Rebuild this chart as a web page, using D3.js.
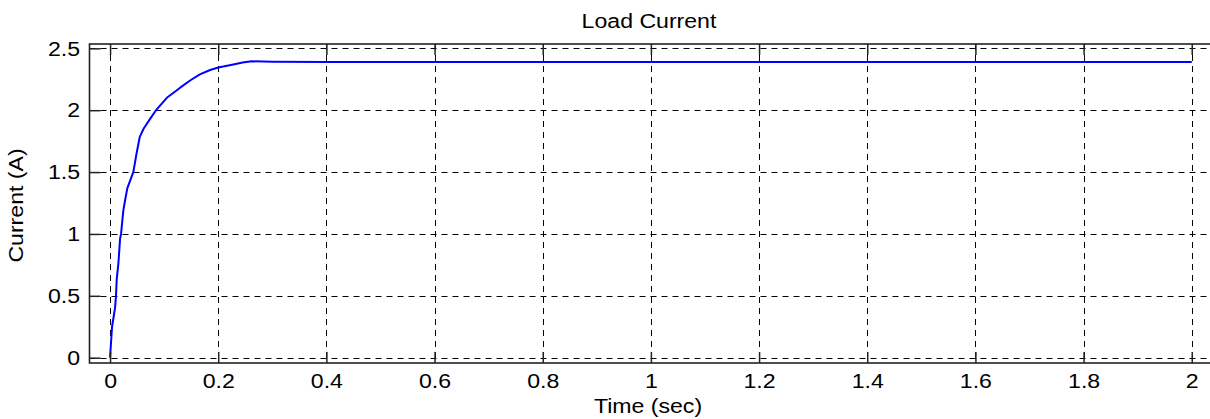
<!DOCTYPE html>
<html>
<head>
<meta charset="utf-8">
<script src="https://cdn.jsdelivr.net/npm/d3@7"></script>
<style>
  body { margin: 0; background: #fff; }
  text { font-family: "Liberation Sans", Arial, sans-serif; fill: #000; }
</style>
</head>
<body>
<div id="chart"></div>
<script>
// values
const time = [0, 0.0037, 0.0092, 0.011, 0.0123, 0.0154, 0.0185, 0.0203, 0.0246, 0.0277,
  0.032, 0.043, 0.049, 0.055, 0.062, 0.074, 0.085, 0.105, 0.129, 0.148, 0.166, 0.185, 0.2,
  0.228, 0.245, 0.262, 0.3, 0.4, 0.6, 0.8, 1.0, 1.2, 1.4, 1.6, 1.8, 2.0];
const current = [0, 0.25, 0.4, 0.5, 0.63, 0.76, 0.96, 1.0, 1.19, 1.27,
  1.37, 1.5, 1.65, 1.785, 1.85, 1.93, 2.0, 2.1, 2.18, 2.24, 2.29, 2.325, 2.345,
  2.37, 2.385, 2.395, 2.392, 2.389, 2.39, 2.389, 2.39, 2.389, 2.39, 2.39, 2.389, 2.39];

const xTicks = [0, 0.2, 0.4, 0.6, 0.8, 1, 1.2, 1.4, 1.6, 1.8, 2];
const yTicks = [0, 0.5, 1, 1.5, 2, 2.5];

const W = 1210, H = 419;
const box = { left: 89.5, top: 44, right: 1212.3, bottom: 363 };
const tickLen = 11;
const fontSize = "21px";
const stretch = 1.1; // the picture's letters are a bit wide

const svg = d3.select("#chart").append("svg")
  .attr("width", W)
  .attr("height", H);

const x = d3.scaleLinear().domain([-0.038, 2.038]).range([box.left, box.right]);
const y = d3.scaleLinear().domain([-0.043, 2.535]).range([box.bottom, box.top]);

// dashed grid
const grid = svg.append("g")
  .attr("stroke", "#000")
  .attr("stroke-width", 1)
  .attr("stroke-dasharray", "6,5");

grid.selectAll(".vg").data(xTicks).enter().append("line")
  .attr("x1", (d) => Math.round(x(d)) + 0.5)
  .attr("x2", (d) => Math.round(x(d)) + 0.5)
  .attr("y1", box.top)
  .attr("y2", box.bottom);

grid.selectAll(".hg").data(yTicks).enter().append("line")
  .attr("y1", (d) => Math.round(y(d)) + 0.5)
  .attr("y2", (d) => Math.round(y(d)) + 0.5)
  .attr("x1", box.left)
  .attr("x2", box.right);

// the curve
const line = d3.line()
  .x((d, i) => x(time[i]))
  .y((d) => y(d));

svg.append("path")
  .datum(current)
  .attr("fill", "none")
  .attr("stroke", "#0000ff")
  .attr("stroke-width", 2)
  .attr("stroke-linejoin", "round")
  .attr("d", line);

// axes: ticks pointing inward, labels outside
const bottomAxis = d3.axisBottom(x).tickValues(xTicks).tickSize(-tickLen).tickPadding(10)
  .tickFormat(d3.format("~g"));
const topAxis = d3.axisTop(x).tickValues(xTicks).tickSize(-tickLen).tickFormat("");
const leftAxis = d3.axisLeft(y).tickValues(yTicks).tickSize(-tickLen).tickPadding(8.6)
  .tickFormat(d3.format("~g"));

function styleAxis(g) {
  g.select(".domain").remove();
  g.selectAll(".tick line").attr("stroke", "#222").attr("stroke-width", 1.5);
  g.selectAll(".tick text")
    .style("font-size", fontSize)
    .attr("fill", "#000")
    .attr("transform", `scale(${stretch},1)`);
}

svg.append("g").attr("transform", `translate(0,${box.bottom})`).call(bottomAxis).call(styleAxis);
svg.append("g").attr("transform", `translate(0,${box.top})`).call(topAxis).call(styleAxis);
svg.append("g").attr("transform", `translate(${box.left},0)`).call(leftAxis).call(styleAxis);

// frame
svg.append("rect")
  .attr("x", box.left)
  .attr("y", box.top)
  .attr("width", box.right - box.left)
  .attr("height", box.bottom - box.top)
  .attr("fill", "none")
  .attr("stroke", "#222")
  .attr("stroke-width", 1.6);

// texts
svg.append("text")
  .attr("transform", `translate(649,28) scale(${stretch},1)`)
  .attr("text-anchor", "middle")
  .style("font-size", fontSize)
  .text("Load Current");

svg.append("text")
  .attr("transform", `translate(648,413) scale(${stretch},1)`)
  .attr("text-anchor", "middle")
  .style("font-size", fontSize)
  .text("Time (sec)");

svg.append("text")
  .attr("transform", `translate(23,${(box.top + box.bottom) / 2 + 2}) rotate(-90) scale(${stretch},1)`)
  .attr("text-anchor", "middle")
  .style("font-size", fontSize)
  .text("Current (A)");
</script>
</body>
</html>
